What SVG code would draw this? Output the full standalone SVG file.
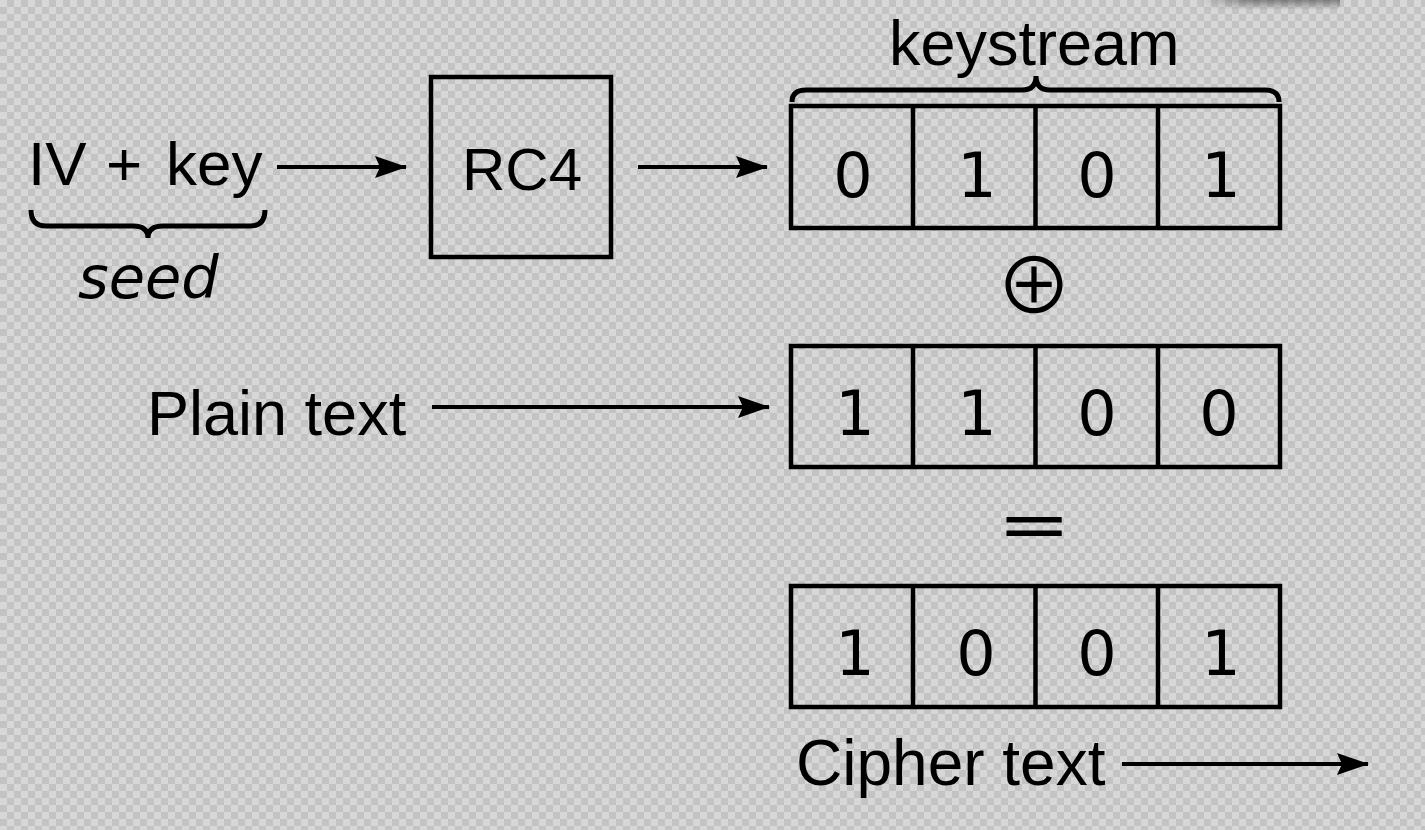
<svg xmlns="http://www.w3.org/2000/svg" width="1425" height="830" viewBox="0 0 1425 830">
<defs>
<pattern id="checker" x="0" y="0" width="14" height="14" patternUnits="userSpaceOnUse">
<rect width="14" height="14" fill="#d7d7d7"/>
<rect x="7" y="0" width="7" height="7" fill="#c3c3c3"/>
<rect x="0" y="7" width="7" height="7" fill="#c3c3c3"/>
</pattern>
<linearGradient id="shadow" x1="0" y1="0" x2="0" y2="1">
<stop offset="0" stop-color="#444" stop-opacity="0.8"/>
<stop offset="1" stop-color="#444" stop-opacity="0"/>
</linearGradient>
<linearGradient id="shadowx" x1="0" y1="0" x2="1" y2="0">
<stop offset="0" stop-color="#fff" stop-opacity="0"/>
<stop offset="0.35" stop-color="#fff" stop-opacity="1"/>
<stop offset="1" stop-color="#fff" stop-opacity="1"/>
</linearGradient>
<mask id="fadeLeft"><rect x="1200" y="0" width="140" height="12" fill="url(#shadowx)"/></mask>
<marker id="arrow" markerUnits="userSpaceOnUse" viewBox="0 0 32 24" refX="31" refY="12" markerWidth="32" markerHeight="24" orient="auto">
<path d="M0,1 L32,12 L0,23 L5,12 Z" fill="#000"/>
</marker>
<style>
.box{fill:none;stroke:#000;stroke-width:4.5}
.brace{fill:none;stroke:#000;stroke-width:5}
.conn{fill:none;stroke:#000;stroke-width:4;marker-end:url(#arrow)}
.lbl{font-family:"Liberation Sans",Arial,sans-serif;font-size:63px;fill:#000}
.dig{font-family:"DejaVu Sans",sans-serif;font-size:62px;fill:#000;text-anchor:middle}
.op{font-family:"DejaVu Sans",sans-serif;font-weight:200;fill:#000;text-anchor:middle}
.xor{font-family:"Noto Sans CJK SC","DejaVu Sans",sans-serif;fill:#000;text-anchor:middle}
</style>
</defs>
<rect width="1425" height="830" fill="url(#checker)"/>
<rect x="1200" y="-4" width="140" height="14" rx="5" fill="url(#shadow)" mask="url(#fadeLeft)"/>

<g id="seed-input">
<text class="lbl" x="28" y="185" style="font-size:62px">IV</text>
<text class="lbl" x="106" y="185" style="font-size:62px">+</text>
<text class="lbl" x="166" y="185" style="font-size:62px">key</text>
<path class="brace" d="M31,210 Q31,226 46,226 L133,226 Q148,226 148,238 Q148,226 163,226 L250,226 Q265,226 265,210"/>
<text x="78" y="298" font-family="DejaVu Sans, sans-serif" font-style="italic" font-size="59">seed</text>
</g>

<g id="rc4">
<rect class="box" x="431" y="77" width="180" height="180"/>
<text class="lbl" x="522" y="190" style="font-size:60px" text-anchor="middle">RC4</text>
</g>

<g id="keystream">
<text class="lbl" x="889" y="65">keystream</text>
<path class="brace" d="M792,102 Q792,90 806,90 L1022,90 Q1036,90 1036,76 Q1036,90 1050,90 L1265,90 Q1279,90 1279,102"/>
<rect class="box" x="791" y="106" width="489" height="122"/>
<path class="box" d="M913,106 V228 M1035.5,106 V228 M1158,106 V228"/>
<text class="dig" x="853" y="197">0</text>
<text class="dig" x="977" y="197">1</text>
<text class="dig" x="1097" y="197">0</text>
<text class="dig" x="1221" y="197">1</text>
</g>

<g id="xor">
<text class="xor" x="1034" y="314" style="font-size:77px">⊕</text>
</g>

<g id="plaintext">
<text class="lbl" x="147" y="435">Plain text</text>
</g>

<g id="plain-bits">
<rect class="box" x="791" y="346" width="489" height="121"/>
<path class="box" d="M913,346 V467 M1035.5,346 V467 M1158,346 V467"/>
<text class="dig" x="855" y="435">1</text>
<text class="dig" x="977" y="435">1</text>
<text class="dig" x="1097" y="435">0</text>
<text class="dig" x="1219" y="435">0</text>
</g>

<g id="equals">
<text class="op" x="1034" y="553" style="font-size:85px;stroke:#000;stroke-width:2">=</text>
</g>

<g id="cipher-bits">
<rect class="box" x="791" y="586" width="489" height="121"/>
<path class="box" d="M913,586 V707 M1035.5,586 V707 M1158,586 V707"/>
<text class="dig" x="855" y="675">1</text>
<text class="dig" x="976" y="675">0</text>
<text class="dig" x="1097" y="675">0</text>
<text class="dig" x="1221" y="675">1</text>
</g>

<g id="ciphertext">
<text class="lbl" x="796" y="785" style="font-size:64px">Cipher text</text>
</g>

<g id="connectors">
<line class="conn" x1="277" y1="167" x2="406" y2="167"/>
<line class="conn" x1="638" y1="167" x2="767" y2="167"/>
<line class="conn" x1="432" y1="407" x2="769" y2="407"/>
<line class="conn" x1="1122" y1="764" x2="1368" y2="764"/>
</g>
</svg>
